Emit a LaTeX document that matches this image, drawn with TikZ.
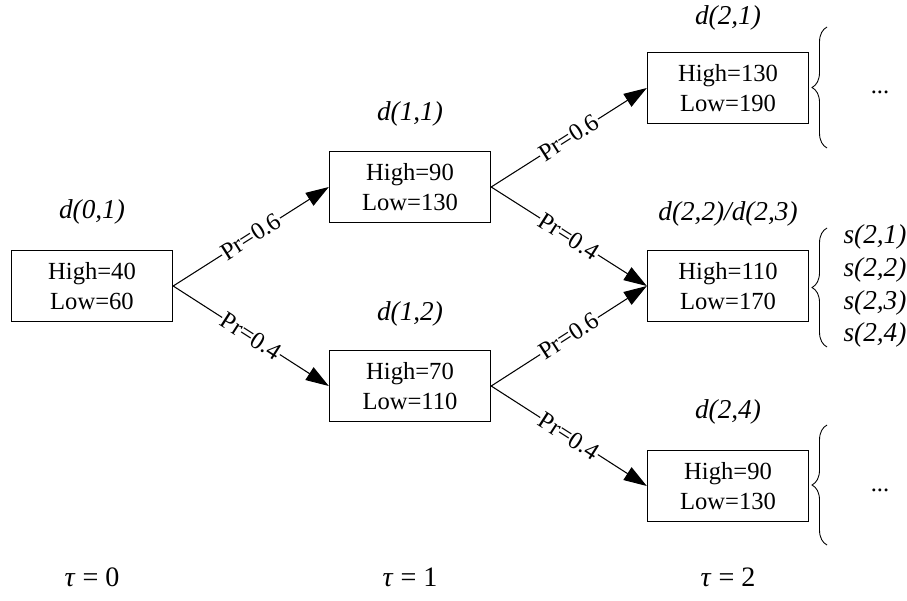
\documentclass[tikz,border=0pt]{standalone}
\usepackage{fontspec}
\setmainfont{Liberation Serif}
\usetikzlibrary{
  arrows.meta,
  positioning,
  decorations.pathreplacing
}

\begin{document}
\begin{tikzpicture}[
  font=\fontsize{14}{17}\selectfont,
  state/.style={
    draw, line width=0.8pt,
    align=center, minimum width=3.22cm,
    minimum height=1.42cm, inner sep=2pt
  },
  tag/.style={
    font=\fontsize{15.5}{18}\selectfont\itshape},
  arrow/.style={
    -{Triangle[length=0.46cm, width=0.3cm]},
    line width=0.6pt},
  prob/.style={
    midway, sloped, fill=white, inner sep=0.5pt,
    font=\fontsize{14}{16}\selectfont},
  brc/.style={
    decorate, decoration={brace, amplitude=0.3cm},
    line width=0.5pt}
]
\useasboundingbox (0,0) rectangle (18.14,-12);

\node[state] (d01) at (1.84,-5.72) {High=40\\Low=60};
\node[tag] (l01) at (1.84,-4.24) {d(0,1)};

\node[state] (d11) at (8.2,-3.74) {High=90\\Low=130};
\node[tag] (l11) at (8.2,-2.28) {d(1,1)};

\node[state] (d12) at (8.2,-7.72) {High=70\\Low=110};
\node[tag] (l12) at (8.2,-6.28) {d(1,2)};

\node[state] (d21) at (14.56,-1.76) {High=130\\Low=190};
\node[tag] (l21) at (14.56,-0.36) {d(2,1)};

\node[state] (d22) at (14.56,-5.72) {High=110\\Low=170};
\node[tag] (l22) at (14.56,-4.28) {d(2,2)/d(2,3)};

\node[state] (d24) at (14.56,-9.72) {High=90\\Low=130};
\node[tag] (l24) at (14.56,-8.24) {d(2,4)};

\foreach \a/\b/\p in
  {d01/d11/0.6,d01/d12/0.4,d11/d21/0.6,
   d11/d22/0.4,d12/d22/0.6,d12/d24/0.4}{
  \draw[arrow] (\a.east) -- node[prob] {Pr=\p} (\b.west);
}

% braces on the right
\draw[brc] (16.54,-2.96) -- (16.54,-0.54);
\draw[brc] (16.54,-6.94) -- (16.54,-4.56);
\draw[brc] (16.54,-10.9) -- (16.54,-8.5);

\node (dots1) at (17.6,-1.84) {...};
\node (dots2) at (17.6,-9.8) {...};

\foreach \i/\y in {1/-4.74,2/-5.40,3/-6.06,4/-6.70}{
  \node[tag] (s2\i) at (17.5,\y) {s(2,\i)};
}

\node (t0) at (1.84,-11.54) {\fontsize{16}{18}\selectfont\textit{τ} = 0};
\node (t1) at (8.2,-11.54) {\fontsize{16}{18}\selectfont\textit{τ} = 1};
\node (t2) at (14.56,-11.54) {\fontsize{16}{18}\selectfont\textit{τ} = 2};
\end{tikzpicture}
\end{document}
